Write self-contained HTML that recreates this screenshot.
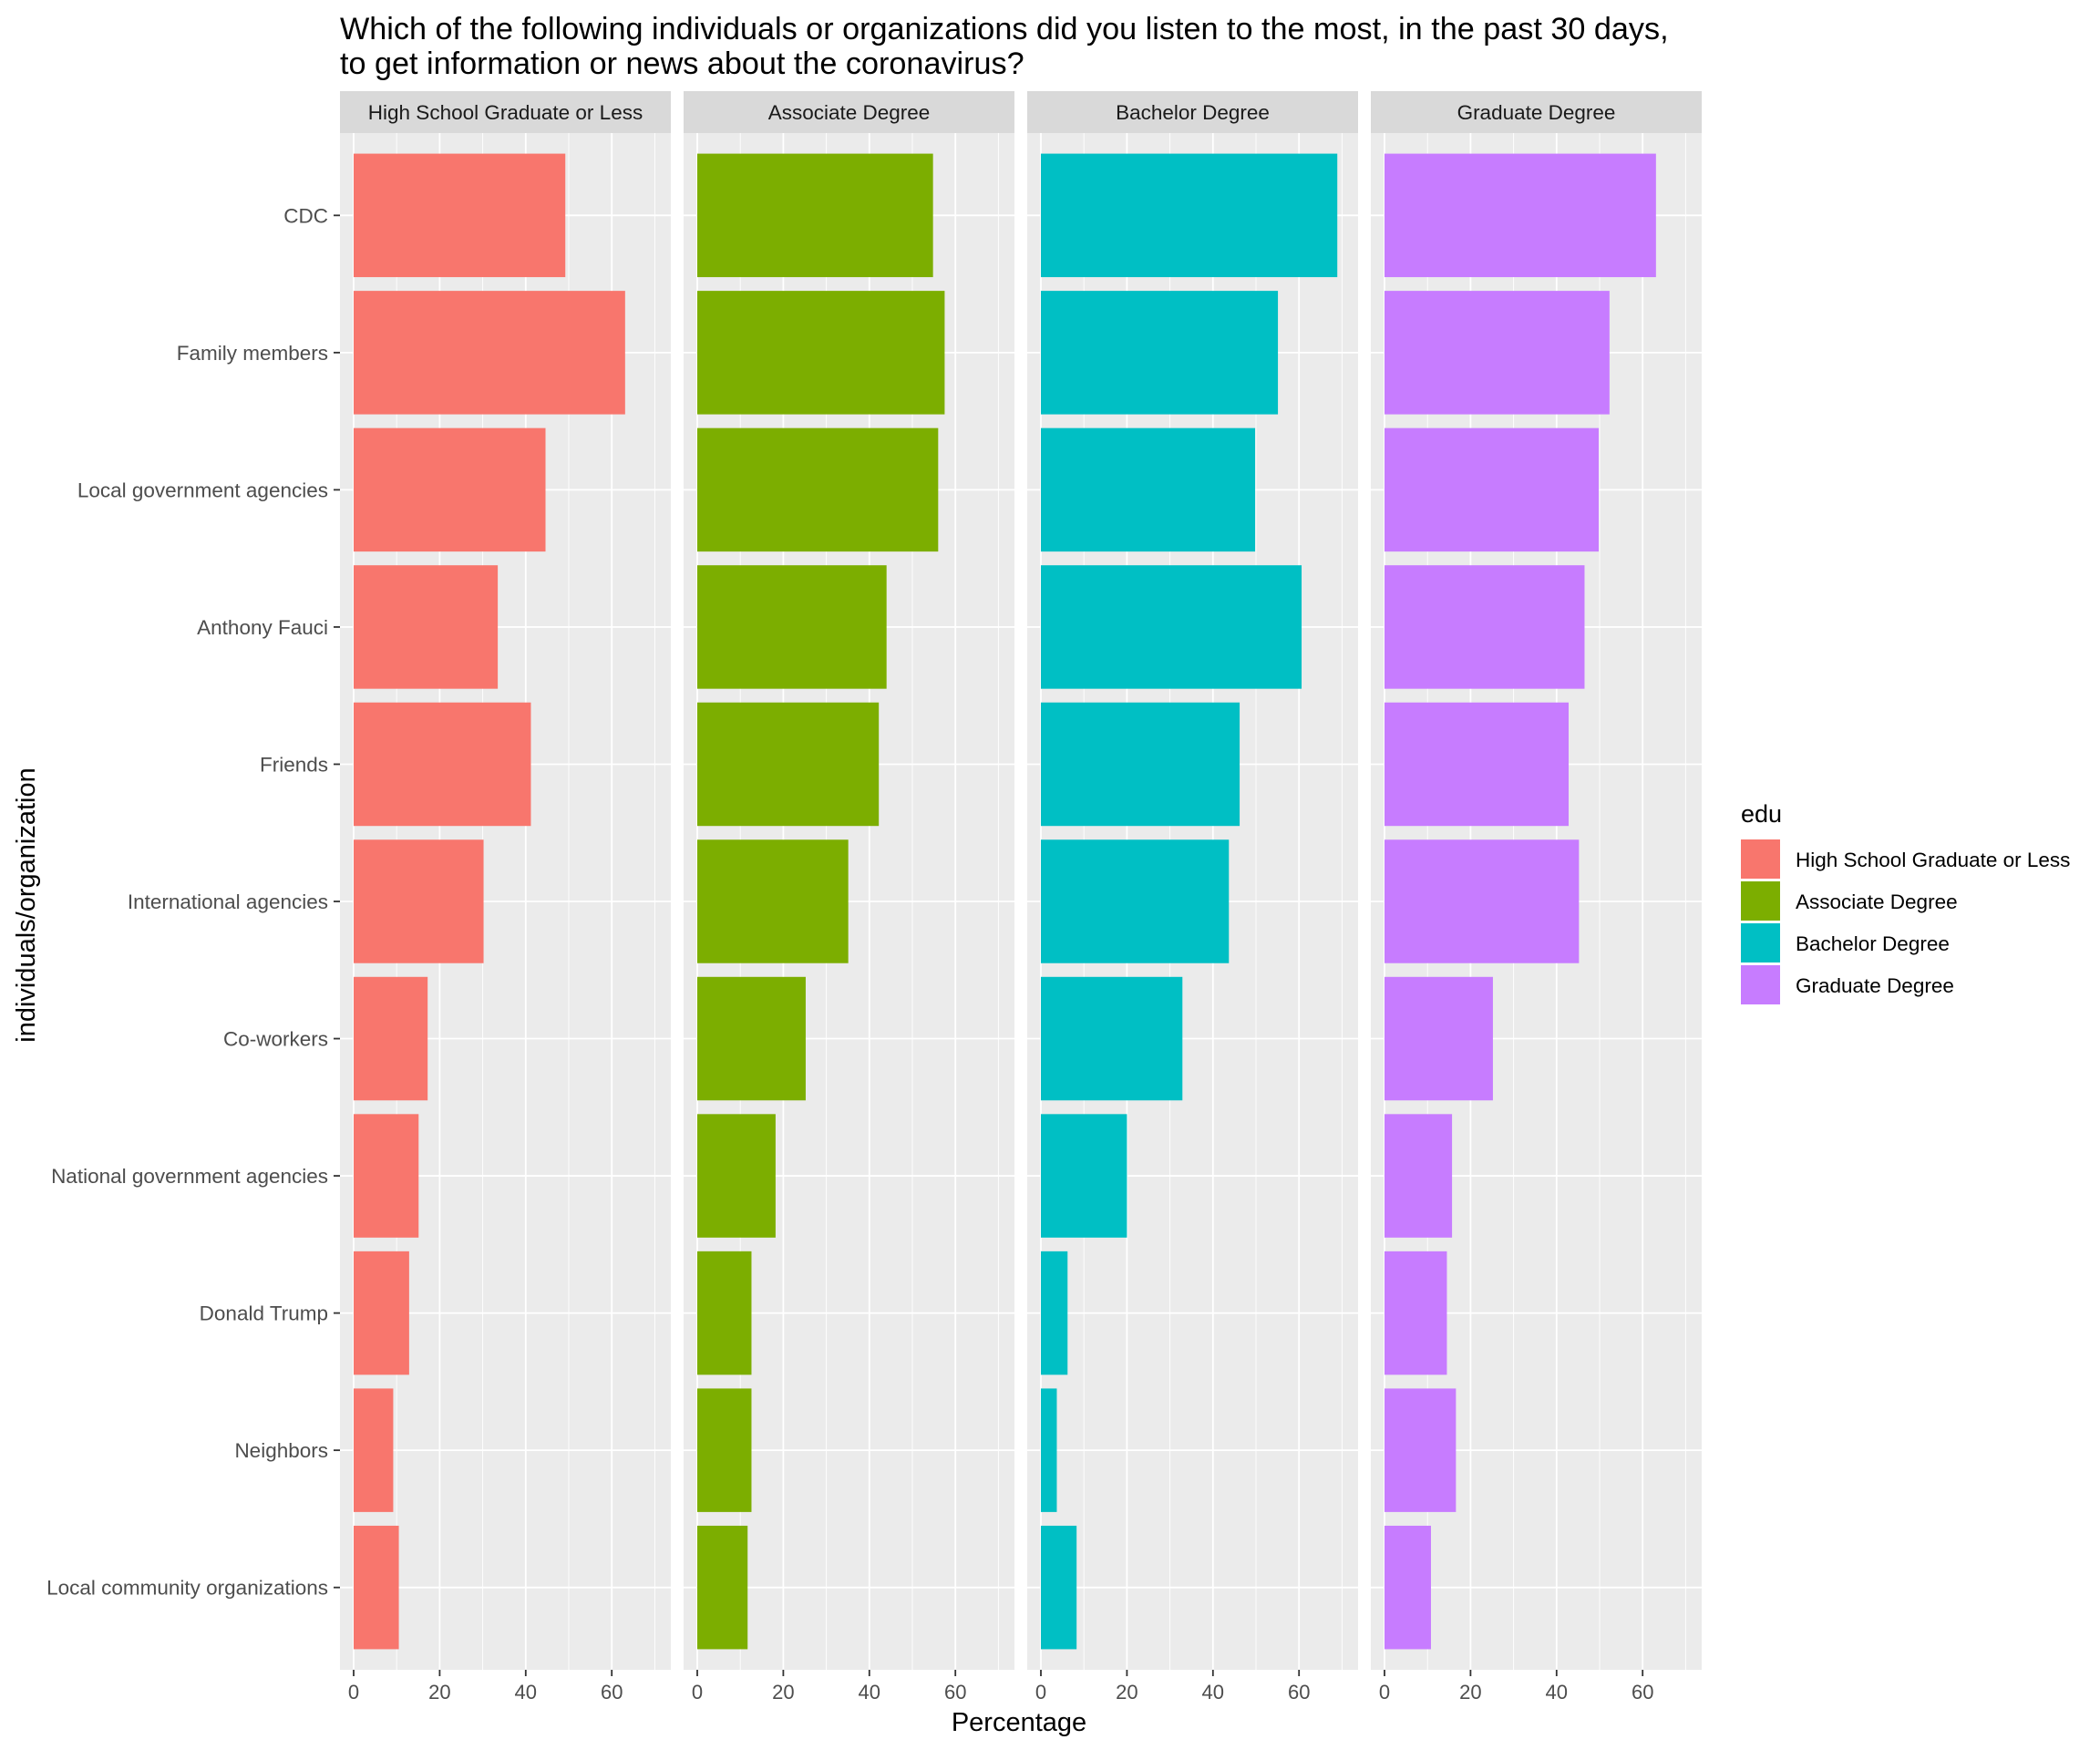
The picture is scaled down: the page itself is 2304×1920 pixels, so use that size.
<!DOCTYPE html>
<html><head><meta charset="utf-8"><style>
html,body{margin:0;padding:0;background:#fff;}
svg{display:block;font-family:"Liberation Sans",Arial,sans-serif;}
</style></head><body>
<svg id="chart" width="2304" height="1920" viewBox="0 0 2304 1920">
<text x="373" y="43" font-size="34.2" fill="#000">Which of the following individuals or organizations did you listen to the most, in the past 30 days,</text>
<text x="373" y="81" font-size="34.2" fill="#000">to get information or news about the coronavirus?</text>
<text x="1118" y="1899" font-size="29" text-anchor="middle" fill="#000">Percentage</text>
<text transform="translate(38,993) rotate(-90)" font-size="29" text-anchor="middle" fill="#000">individuals/organization</text>
<g id="panels"></g>
<g id="legend"></g>
</svg>
<script>
const categories = ["CDC","Family members","Local government agencies","Anthony Fauci","Friends","International agencies","Co-workers","National government agencies","Donald Trump","Neighbors","Local community organizations"];
const facets = ["High School Graduate or Less","Associate Degree","Bachelor Degree","Graduate Degree"];
const colors = ["#F8766D","#7CAE00","#00BFC4","#C77CFF"];
const hsValues = [49.2,63.1,44.6,33.5,41.2,30.2,17.2,15.1,12.9,9.2,10.5];
const assocValues = [54.8,57.5,56.0,44.0,42.2,35.1,25.2,18.2,12.6,12.6,11.7];
const bachValues = [68.9,55.1,49.8,60.6,46.2,43.7,32.9,20.0,6.2,3.7,8.3];
const gradValues = [63.1,52.3,49.8,46.5,42.8,45.2,25.2,15.7,14.5,16.6,10.8];
const xTicks = [0,20,40,60];
const xMinor = [10,30,50,70];

const series = [hsValues, assocValues, bachValues, gradValues];
const NS = "http://www.w3.org/2000/svg";
const panelsG = document.getElementById("panels");
const legendG = document.getElementById("legend");
const PT = 146, PB = 1832, PW = 363, PSTEP = 377, P0 = 373;
const band = (PB - PT) / (categories.length + 0.2);
function yPos(i){ return PT + band * (0.6 + i); }
function xPos(p, v){ return P0 + p * PSTEP + 15 + v * 4.72; }
function mk(tag, attrs, parent){ const e = document.createElementNS(NS, tag); for (const k in attrs) e.setAttribute(k, attrs[k]); parent.appendChild(e); return e; }

facets.forEach((f, p) => {
  const left = P0 + p * PSTEP;
  const g = mk("g", {}, panelsG);
  
  
  const bg = mk("rect", {x: left, y: PT, width: PW, height: PB - PT, fill: "#EBEBEB"}, g);
  
  
  const strip = mk("rect", {x: left, y: 100, width: PW, height: 46, fill: "#D9D9D9"}, g);
  
  
  const st = mk("text", {x: left + PW / 2, y: 131, "font-size": 22.5, "text-anchor": "middle", fill: "#1A1A1A"}, g);
  st.textContent = f;
  
  
  xMinor.forEach(v => {
    const l = mk("line", {x1: xPos(p, v), x2: xPos(p, v), y1: PT, y2: PB, stroke: "#fff", "stroke-width": 0.9}, g);
    
    
  });
  xTicks.forEach(v => {
    const l = mk("line", {x1: xPos(p, v), x2: xPos(p, v), y1: PT, y2: PB, stroke: "#fff", "stroke-width": 1.8}, g);
    
    
    const t = mk("line", {x1: xPos(p, v), x2: xPos(p, v), y1: PB, y2: PB + 7, stroke: "#333", "stroke-width": 1.8}, g);
    
    
    const tl = mk("text", {x: xPos(p, v), y: PB + 32, "font-size": 22, "text-anchor": "middle", fill: "#4D4D4D"}, g);
    tl.textContent = v;
    
    
  });
  categories.forEach((c, i) => {
    const l = mk("line", {x1: left, x2: left + PW, y1: yPos(i), y2: yPos(i), stroke: "#fff", "stroke-width": 1.8}, g);
    
    
  });
  series[p].forEach((v, i) => {
    const h = band * 0.9;
    const r = mk("rect", {x: xPos(p, 0), y: yPos(i) - h / 2, width: xPos(p, v) - xPos(p, 0), height: h, fill: colors[p]}, g);
    
    
  });
});

categories.forEach((c, i) => {
  const t = mk("line", {x1: 366, x2: 373, y1: yPos(i), y2: yPos(i), stroke: "#333", "stroke-width": 1.8}, panelsG);
  
  
  const tl = mk("text", {x: 360, y: yPos(i) + 8, "font-size": 22.5, "text-anchor": "end", fill: "#4D4D4D"}, panelsG);
  tl.textContent = c;
  
  
});

const lt = mk("text", {x: 1910, y: 902, "font-size": 27, fill: "#000"}, legendG);
lt.textContent = "edu";


facets.forEach((f, p) => {
  const y = 921 + p * 46;
  const k = mk("rect", {x: 1910, y: y, width: 43, height: 43, fill: colors[p]}, legendG);
  
  
  const t = mk("text", {x: 1970, y: y + 30, "font-size": 22.5, fill: "#000"}, legendG);
  t.textContent = f;
  
  
});
</script>
</body></html>
